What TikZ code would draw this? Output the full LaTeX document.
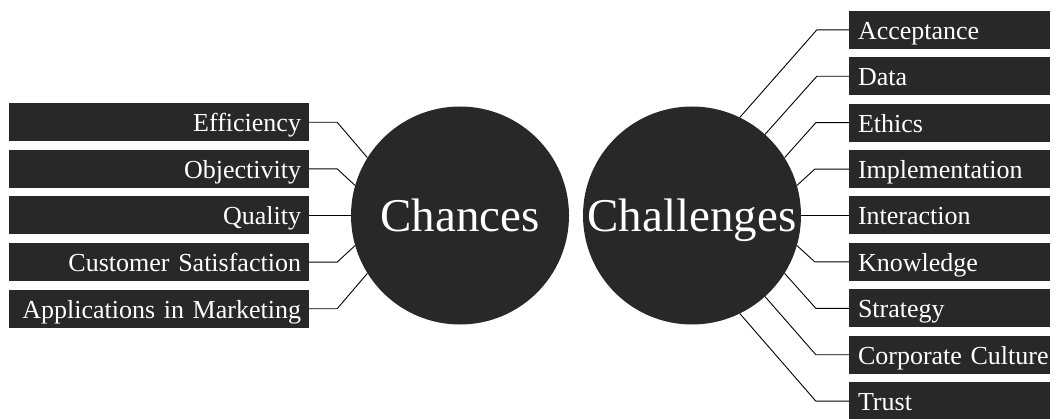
\documentclass[tikz,border=0pt]{standalone}
\usepackage{fontspec}
\setmainfont{Liberation Serif}
\usepackage{xcolor}
\usepackage{tikz}
\usetikzlibrary{positioning}
\definecolor{boxgray}{RGB}{40,40,40}

\begin{document}
\begin{tikzpicture}[x=1pt,y=-1pt,
	leftbox/.style={rectangle,fill=boxgray,text=white,minimum height=38pt,text width=284pt,inner xsep=8pt,inner ysep=0pt,text height=24pt,text depth=5pt,align=right,font=\fontsize{26}{30}\selectfont},
	rightbox/.style={rectangle,fill=boxgray,text=white,minimum height=38pt,text width=201pt,inner xsep=0pt,inner ysep=0pt,text height=24pt,text depth=5pt,align=left,font=\fontsize{26}{30}\selectfont,execute at begin node={\hspace*{9pt}}},
	bigcircle/.style={circle,fill=boxgray,text=white,minimum size=218pt,inner sep=0pt,text height=32pt,text depth=0pt,font=\fontsize{47}{50}\selectfont},
	link/.style={line width=0.9pt}]
				\useasboundingbox (0,0) rectangle (1059,419);

				% Circles
				\node[bigcircle] (chances) at (460,215.5) {Chances};
				\node[bigcircle] (challenges) at (692,215.5) {Challenges};

				% Chances side
				\node[leftbox] (eff) at (159,122.3) {Efficiency};
				\node[leftbox] (obj) at (159,168.9) {Objectivity};
				\node[leftbox] (qual) at (159,215.5) {Quality};
				\node[leftbox] (cust) at (159,262.1) {Customer Satisfaction};
				\node[leftbox] (appl) at (159,308.7) {Applications in Marketing};

				\draw[link] (eff.east) -- ++(28,0) -- (chances.148);
				\draw[link] (obj.east) -- ++(28,0) -- (chances.164);
				\draw[link] (qual.east) -- (chances.180);
				\draw[link] (cust.east) -- ++(28,0) -- (chances.196);
				\draw[link] (appl.east) -- ++(28,0) -- (chances.212);

				% Challenges side
				\node[rightbox] (acc) at (949.5,29.9) {Acceptance};
				\node[rightbox] (data) at (949.5,76.3) {Data};
				\node[rightbox] (eth) at (949.5,122.7) {Ethics};
				\node[rightbox] (impl) at (949.5,169.1) {Implementation};
				\node[rightbox] (inter) at (949.5,215.5) {Interaction};
				\node[rightbox] (know) at (949.5,261.9) {Knowledge};
				\node[rightbox] (strat) at (949.5,308.3) {Strategy};
				\node[rightbox] (corp) at (949.5,354.7) {Corporate Culture};
				\node[rightbox] (trust) at (949.5,401.1) {Trust};

				\draw[link] (acc.west) -- ++(-32,0) -- (challenges.64);
				\draw[link] (data.west) -- ++(-32,0) -- (challenges.48);
				\draw[link] (eth.west) -- ++(-33,0) -- (challenges.32);
				\draw[link] (impl.west) -- ++(-34,0) -- (challenges.16);
				\draw[link] (inter.west) -- (challenges.0);
				\draw[link] (know.west) -- ++(-34,0) -- (challenges.-16);
				\draw[link] (strat.west) -- ++(-33,0) -- (challenges.-32);
				\draw[link] (corp.west) -- ++(-33,0) -- (challenges.-48);
				\draw[link] (trust.west) -- ++(-33,0) -- (challenges.-64);
			\end{tikzpicture}
\end{document}
